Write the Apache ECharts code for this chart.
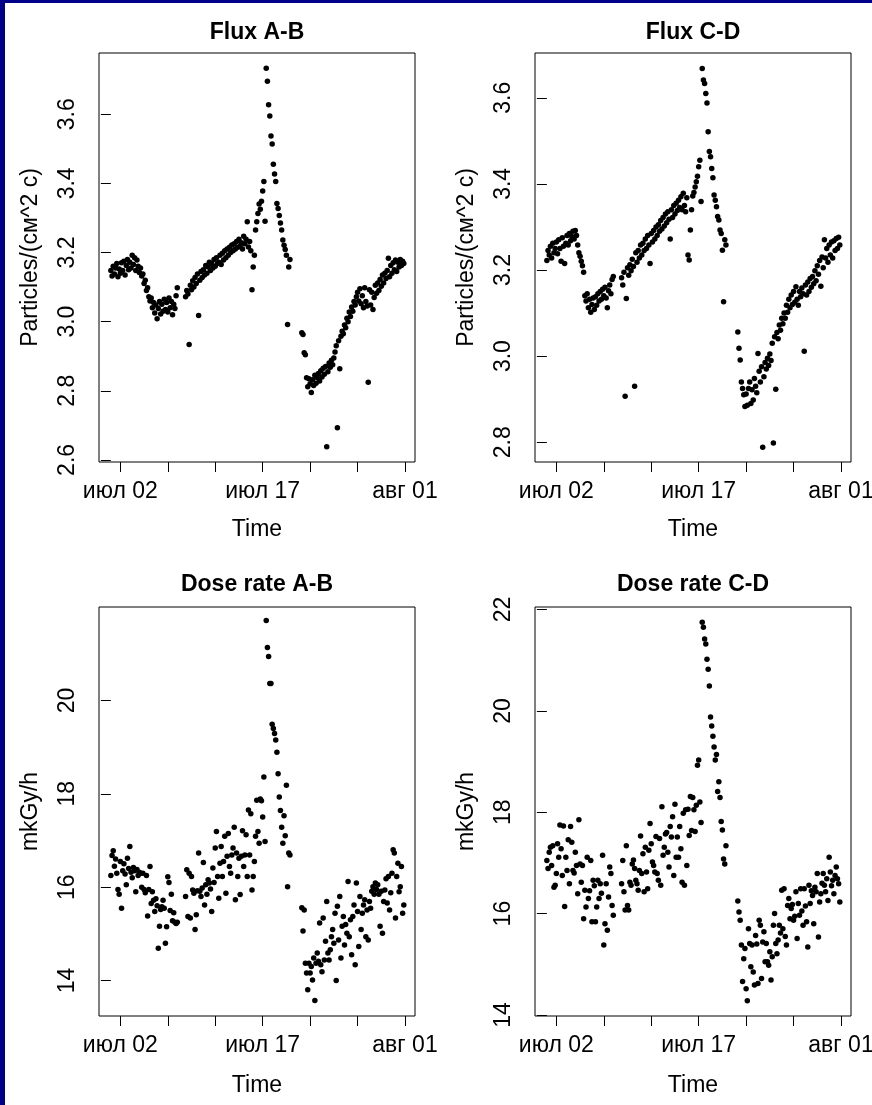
<!DOCTYPE html>
<html>
<head>
<meta charset="utf-8">
<script src="https://cdn.jsdelivr.net/npm/echarts@6/dist/echarts.min.js"></script>
<style>
  html, body { margin: 0; padding: 0; background: #fff; }
  #chart { width: 872px; height: 1105px; }
</style>
</head>
<body>
<div id="chart"></div>
<script>
// hours since 1 July 00:00, shared by all four panels
const hours = [
  0,3,6,9,12,15,18,21, 24,27,30,33,36,39,42,45, 48,51,54,57,60,63,66,69,
  72,75,78,81,84,87,90,93, 96,99,102,105,108,111,114,117, 120,123,126,129,132,135,138,141,
  144,147,150,153,156,159,162,165, 168,
  189,192,195,198,201,204,207,210, 213,216,219,222,225,228,231,234,
  237,240,243,246,249,252,255,258, 261,264,267,270,273,276,279,282,
  285,288,291,294,297,300,303,306, 309,312,315,318,321,324,327,330,
  333,336,339,342,345,348,351,354, 357,360,363,366,369,372,375,378,
  381,384,387,390,393,396,399,402, 405,408,411,414,417,420,423,426,
  429,432,435,438,441,444,447,450, 453,
  483,486,489,492,495,498,501,504, 507,510,513,516,519,522,525,528,
  531,534,537,540,543,546,549,552, 555,558,561,564,567,570,573,576,
  579,582,585,588,591,594,597,600, 603,606,609,612,615,618,621,624,
  627,630,633,636,639,642,645,648, 651,654,657,660,663,666,669,672,
  675,678,681,684,687,690,693,696, 699,702,705,708,711,714,717,720,
  723,726,729,732,735,738,741
];

const fluxAB = [
  3.148,3.132,3.160,3.138,3.155,3.168,3.130,3.152, 3.140,3.170,3.148,3.175,3.135,3.162,3.180,3.150,
  3.172,3.155,3.192,3.165,3.185,3.148,3.178,3.160, 3.142,3.155,3.132,3.138,3.110,3.120,3.090,3.098,
  3.072,3.060,3.068,3.040,3.055,3.025,3.048,3.008, 3.038,3.058,3.022,3.050,3.030,3.065,3.035,3.055,
  3.028,3.068,3.040,3.058,3.020,3.050,3.038,3.075, 3.098,
  3.072,3.090,3.080,2.934,3.105,3.092,3.118,3.100, 3.128,3.110,3.138,3.018,3.120,3.145,3.128,3.150,
  3.135,3.162,3.140,3.158,3.172,3.148,3.168,3.155, 3.180,3.160,3.185,3.168,3.172,3.192,3.165,3.198,
  3.178,3.205,3.185,3.210,3.192,3.215,3.200,3.222, 3.205,3.225,3.210,3.232,3.215,3.238,3.218,3.228,
  3.210,3.247,3.225,3.238,3.289,3.216,3.232,3.205, 3.092,3.158,3.192,3.265,3.289,3.313,3.340,3.325,
  3.348,3.378,3.405,3.290,3.733,3.695,3.627,3.595, 3.537,3.514,3.455,3.427,3.405,3.342,3.327,3.307,
  3.285,3.265,3.236,3.221,3.209,3.192,2.992,3.158, 3.180,
  2.968,2.963,2.910,2.904,2.838,2.812,2.835,2.820, 2.795,2.832,2.815,2.845,2.822,2.838,2.850,2.828,
  2.858,2.840,2.865,2.848,2.870,2.638,2.855,2.880, 2.868,2.888,2.875,2.895,2.912,2.930,2.693,2.945,
  2.864,2.958,2.972,2.965,2.990,2.982,3.010,3.000, 3.028,3.015,3.042,3.030,3.058,3.048,3.072,3.085,
  3.060,3.095,3.052,3.075,3.040,3.098,3.058,3.045, 2.825,3.092,3.048,3.085,3.035,3.070,3.105,3.082,
  3.112,3.090,3.122,3.102,3.135,3.112,3.140,3.125, 3.148,3.183,3.130,3.162,3.140,3.170,3.150,3.178,
  3.145,3.172,3.158,3.180,3.162,3.175,3.168
];

const fluxCD = [
  3.222,3.245,3.235,3.255,3.228,3.262,3.240,3.250, 3.265,3.238,3.270,3.250,3.220,3.275,3.255,3.215,
  3.262,3.280,3.258,3.285,3.268,3.278,3.290,3.272, 3.292,3.280,3.258,3.240,3.232,3.220,3.210,3.195,
  3.140,3.128,3.145,3.112,3.132,3.102,3.120,3.135, 3.108,3.138,3.118,3.145,3.128,3.150,3.132,3.155,
  3.140,3.160,3.135,3.112,3.152,3.165,3.145,3.178, 3.185,
  3.182,3.165,3.195,2.907,3.134,3.205,3.188,3.212, 3.198,3.225,3.208,2.930,3.240,3.218,3.245,3.228,
  3.258,3.235,3.262,3.245,3.272,3.250,3.280,3.258, 3.215,3.285,3.265,3.292,3.272,3.300,3.280,3.305,
  3.290,3.315,3.295,3.322,3.302,3.330,3.310,3.335, 3.318,3.272,3.340,3.322,3.350,3.330,3.355,3.338,
  3.362,3.345,3.370,3.340,3.378,3.350,3.335,3.368, 3.235,3.223,3.293,3.340,3.372,3.380,3.393,3.405,
  3.418,3.440,3.455,3.359,3.668,3.641,3.633,3.610, 3.588,3.521,3.475,3.463,3.436,3.414,3.374,3.362,
  3.347,3.324,3.316,3.293,3.285,3.246,3.126,3.270, 3.258,
  3.056,3.018,2.991,2.940,2.925,2.910,2.883,2.912, 2.886,2.925,2.940,2.890,2.922,2.898,2.948,2.930,
  2.915,3.006,2.965,2.940,2.975,2.788,2.952,2.985, 2.970,2.995,2.978,3.005,2.990,3.030,2.798,3.045,
  2.923,3.055,3.040,3.072,3.060,3.088,3.075,3.100, 3.088,3.118,3.102,3.132,3.112,3.142,3.120,3.150,
  3.125,3.161,3.132,3.118,3.150,3.138,3.158,3.145, 3.011,3.165,3.142,3.172,3.150,3.180,3.160,3.185,
  3.168,3.198,3.175,3.210,3.190,3.222,3.162,3.230, 3.205,3.270,3.228,3.250,3.218,3.258,3.235,3.265,
  3.228,3.268,3.245,3.273,3.250,3.276,3.258
];

const doseAB = [
  16.25,16.68,16.78,16.45,16.60,16.30,15.95,15.85, 16.55,15.55,16.35,16.50,16.28,16.05,16.62,16.40,
  16.87,16.32,16.20,16.42,16.35,15.90,16.38,16.25, 16.32,16.30,16.00,16.30,15.95,15.88,16.25,15.38,
  15.95,16.44,15.65,15.90,15.72,15.48,15.75,15.60, 14.69,15.16,15.52,15.58,15.72,15.55,14.80,15.15,
  16.22,16.10,15.50,15.85,15.28,15.45,15.25,15.22, 15.25,
  15.80,16.37,15.37,16.30,15.34,16.23,15.94,15.87, 15.09,15.41,15.92,16.73,15.91,15.80,15.98,16.53,
  15.62,16.05,15.85,16.16,16.09,15.96,15.48,16.41, 16.10,16.84,17.19,16.23,15.76,16.51,16.87,16.23,
  16.55,17.09,15.87,16.66,17.15,16.44,16.30,16.69, 16.84,17.28,15.73,16.73,16.23,16.62,15.84,16.66,
  17.21,16.44,16.69,17.12,16.23,17.65,16.69,17.57, 15.94,16.23,16.55,17.09,17.86,17.19,16.94,17.89,
  17.85,17.50,18.36,16.98,21.71,21.13,20.94,20.36, 20.36,19.49,19.40,19.29,19.15,18.89,18.43,17.93,
  17.64,17.28,16.94,17.53,17.10,18.18,16.01,16.73, 16.69,
  15.56,15.06,15.51,14.37,14.16,13.80,14.37,14.16, 14.30,14.01,14.48,13.57,14.37,14.59,14.41,15.23,
  14.34,14.19,15.34,14.44,14.84,15.69,14.59,14.44, 14.66,14.94,15.09,14.80,15.44,14.00,15.59,14.87,
  15.80,14.48,15.16,15.37,14.76,15.20,15.01,16.12, 14.94,15.30,14.55,15.37,15.62,14.34,16.09,15.48,
  14.73,15.80,15.09,15.44,15.62,15.73,14.94,15.51, 14.87,15.69,15.55,15.91,16.01,15.85,16.09,15.95,
  16.05,15.85,15.16,15.91,15.01,15.69,15.94,16.18, 15.66,16.23,15.51,15.88,16.30,16.80,16.73,15.34,
  16.23,16.51,15.90,16.01,16.44,15.44,15.62
];

const doseCD = [
  17.05,16.89,17.21,17.31,16.95,17.34,16.52,16.56, 16.79,17.38,17.11,17.75,17.28,16.75,17.73,16.14,
  17.11,16.85,17.46,16.59,17.72,17.41,16.85,16.80, 17.21,16.95,16.39,17.85,16.98,16.62,16.95,15.90,
  16.46,16.13,17.11,16.30,16.45,17.05,15.84,16.66, 16.55,15.84,16.13,16.66,16.30,16.59,16.40,17.15,
  15.38,15.80,16.59,15.67,16.33,16.92,16.79,16.16, 15.97,
  16.59,17.05,16.43,16.07,17.34,16.16,16.07,16.62, 16.56,16.98,17.06,16.89,16.66,16.59,16.46,16.85,
  17.53,16.79,17.18,16.43,17.31,16.82,16.49,17.25, 17.78,17.38,17.02,16.95,16.82,17.52,16.79,16.66,
  17.48,16.56,18.11,17.15,17.31,17.57,17.60,17.21, 16.92,17.72,17.51,17.91,16.75,18.16,17.11,17.51,
  17.11,17.72,17.28,16.62,17.98,16.56,18.05,16.95, 18.06,17.54,18.31,17.64,18.29,18.05,17.62,18.14,
  18.93,19.03,18.20,17.80,21.75,21.65,21.42,21.32, 21.02,20.82,20.49,19.88,19.70,19.50,19.29,19.03,
  19.14,18.41,18.60,18.29,17.82,17.65,17.08,16.98, 17.34,
  16.25,16.03,15.87,15.38,14.66,15.11,15.31,14.52, 14.28,15.70,15.41,14.95,15.38,14.85,14.59,15.57,
  15.40,14.62,15.87,15.77,14.72,15.44,15.64,15.05, 15.41,15.05,14.98,15.25,14.69,15.15,15.77,16.00,
  15.41,15.21,15.48,15.77,15.62,16.46,15.70,16.49, 15.55,15.38,16.16,16.30,15.90,16.10,16.18,15.87,
  15.95,16.43,15.51,16.20,15.97,16.49,16.05,15.77, 16.49,16.15,15.84,15.34,16.56,16.20,16.45,16.36,
  15.80,16.52,16.43,16.79,15.54,16.23,16.39,16.60, 16.79,16.56,16.43,16.69,16.26,17.11,16.82,16.55,
  16.66,16.39,16.75,16.92,16.69,16.59,16.23
];

const xTicks = [24, 144, 264, 384, 504, 624, 744];
const xLabelTicks = [24, 384, 744];
const xLabelText = ['июл 02', 'июл 17', 'авг 01'];

const panelTitles = ['Flux A-B', 'Flux C-D', 'Dose rate A-B', 'Dose rate C-D'];
const yNames = ['Particles/(см^2 с)', 'Particles/(см^2 с)', 'mkGy/h', 'mkGy/h'];
const yTicks = [
  [2.6, 2.8, 3.0, 3.2, 3.4, 3.6],
  [2.8, 3.0, 3.2, 3.4, 3.6],
  [14, 16, 18, 20],
  [14, 16, 18, 20, 22]
];
const yRanges = [[2.594, 3.777], [2.754, 3.704], [13.24, 22.0], [13.98, 22.05]];
const seriesValues = [fluxAB, fluxCD, doseAB, doseCD];

const FONT = '"Liberation Sans", Arial, Helvetica, sans-serif';
const gridPos = [[99, 53], [535, 53], [99, 607], [535, 607]];
const titleTop = [21, 21, 573, 573];
const timeGap = [56, 56, 58, 58];
const GW = 316, GH = 409;

const txt = (size, weight) => ({ fontSize: size, fontWeight: weight || 'normal', color: '#000', fontFamily: FONT });

const option = {
  animation: false,
  backgroundColor: '#fff',
  graphic: [
    { type: 'rect', silent: true, z: 100, shape: { x: 0, y: 0, width: 5, height: 1105 }, style: { fill: '#000088' } },
    { type: 'rect', silent: true, z: 100, shape: { x: 0, y: 0, width: 872, height: 3 }, style: { fill: '#000088' } }
  ],
  title: panelTitles.map((t, i) => ({
    text: t,
    left: gridPos[i][0] + GW / 2,
    top: titleTop[i],
    textAlign: 'center',
    padding: 0,
    textStyle: txt(23, 'bold')
  })),
  grid: gridPos.map(p => ({
    left: p[0], top: p[1], width: GW, height: GH,
    show: true, borderColor: '#000', borderWidth: 1,
    containLabel: false, outerBoundsMode: 'none'
  })),
  xAxis: gridPos.map((p, i) => ({
    gridIndex: i,
    type: 'value',
    min: -30, max: 769.3,
    name: 'Time',
    nameLocation: 'middle',
    nameGap: timeGap[i],
    nameTextStyle: txt(23),
    axisLine: { show: false },
    splitLine: { show: false },
    axisTick: { show: true, customValues: xTicks, length: 10, lineStyle: { color: '#000', width: 1 } },
    axisLabel: {
      customValues: xLabelTicks,
      formatter: v => xLabelText[xLabelTicks.indexOf(v)] || '',
      margin: 18,
      ...txt(23)
    }
  })),
  yAxis: gridPos.map((p, i) => ({
    gridIndex: i,
    type: 'value',
    min: yRanges[i][0], max: yRanges[i][1],
    name: yNames[i],
    nameLocation: 'middle',
    nameGap: 57,
    nameRotate: 90,
    nameTextStyle: txt(23),
    axisLine: { show: false },
    splitLine: { show: false },
    axisTick: { show: true, customValues: yTicks[i], length: 10, lineStyle: { color: '#000', width: 1 } },
    axisLabel: {
      customValues: yTicks[i],
      rotate: 90,
      margin: 20,
      formatter: v => (i < 2 ? v.toFixed(1) : String(Math.round(v))),
      ...txt(23)
    }
  })),
  series: seriesValues.map((vals, i) => ({
    type: 'scatter',
    xAxisIndex: i,
    yAxisIndex: i,
    symbol: 'circle',
    symbolSize: 5.5,
    itemStyle: { color: '#000', opacity: 1 },
    data: hours.map((h, j) => [h, vals[j]])
  }))
};

const chart = echarts.init(document.getElementById('chart'));
chart.setOption(option);
</script>
</body>
</html>
